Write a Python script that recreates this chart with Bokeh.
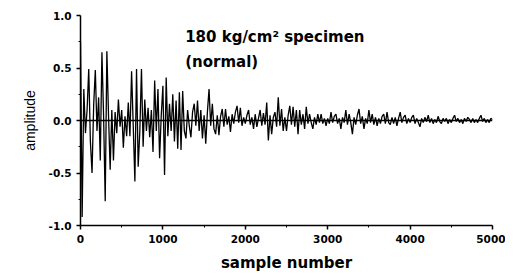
import numpy as np
from bokeh.plotting import figure
from bokeh.models import Span, Range1d, FixedTicker, PrintfTickFormatter
from bokeh.core.properties import value
from bokeh.embed import file_html
from bokeh.resources import INLINE

# ---- data ----
sample_step = 20
amplitude = [
    0.75, -0.92, 0.30, -0.12, 0.10, 0.49, -0.20, -0.50, 0.15, 0.48,
    -0.10, 0.22, -0.38, 0.65, 0.05, -0.77, 0.66, 0.05, -0.47, 0.10,
    -0.38, 0.08, -0.12, 0.20, -0.06, 0.10, -0.26, 0.04, -0.15, 0.17,
    -0.15, 0.47, -0.05, -0.58, 0.49, -0.44, -0.10, 0.49, -0.25, 0.20,
    -0.10, 0.12, -0.16, 0.10, -0.30, 0.38, -0.10, 0.30, -0.36, 0.05,
    0.33, -0.52, 0.41, -0.15, 0.16, -0.10, 0.25, -0.20, 0.19, -0.27,
    0.27, -0.28, 0.28, -0.10, -0.17, 0.10, -0.05, -0.16, 0.08, 0.16,
    -0.05, 0.19, -0.10, 0.10, -0.17, 0.05, -0.22, 0.08, 0.30, -0.05,
    0.16, -0.08, -0.13, 0.05, -0.14, 0.04, 0.11, -0.06, 0.11, -0.04,
    0.04, -0.11, 0.06, -0.03, 0.08, 0.14, -0.02, 0.12, -0.05, 0.03,
    -0.03, 0.05, 0.10, -0.04, 0.03, -0.08, 0.06, -0.06, 0.02, 0.10,
    -0.05, 0.07, -0.04, 0.17, -0.19, 0.05, -0.13, 0.03, 0.08, -0.06,
    0.22, -0.05, 0.11, -0.10, 0.03, -0.10, 0.05, 0.14, -0.04, 0.13,
    -0.06, 0.10, -0.13, 0.10, -0.04, 0.06, -0.08, 0.13, -0.03, 0.06,
    -0.02, -0.08, 0.03, -0.04, 0.06, -0.02, 0.06, -0.03, 0.02, -0.05,
    0.02, -0.03, 0.08, -0.02, 0.04, 0.06, -0.03, 0.02, -0.08, 0.03,
    -0.02, 0.10, -0.04, 0.06, -0.02, -0.13, 0.03, -0.04, 0.05, 0.11,
    -0.03, 0.04, -0.08, 0.02, -0.03, 0.10, -0.02, 0.06, -0.04, 0.03,
    -0.05, 0.02, -0.03, 0.04, 0.06, -0.03, 0.08, -0.02, -0.04, 0.03,
    -0.03, 0.03, -0.05, 0.02, 0.08, -0.02, 0.03, 0.05, -0.03, 0.02,
    -0.02, 0.03, 0.05, -0.03, 0.02, -0.02, -0.06, 0.02, -0.02, 0.03,
    -0.01, 0.05, -0.02, 0.02, -0.03, 0.01, -0.02, 0.04, -0.01, -0.03,
    0.02, -0.01, 0.02, -0.03, 0.01, -0.02, 0.02, 0.05, -0.01, 0.02,
    -0.02, 0.01, -0.03, 0.02, -0.01, 0.03, 0.01, -0.02, 0.02, -0.02,
    0.01, -0.02, 0.02, 0.05, -0.01, 0.02, -0.02, 0.01, -0.02, 0.02,
    0.01,
]
sample = np.arange(len(amplitude)) * sample_step

x_ticks = [0, 1000, 2000, 3000, 4000, 5000]
x_minor = [500, 1500, 2500, 3500, 4500]
y_ticks = [-1.0, -0.5, 0.0, 0.5, 1.0]
y_minor = [-0.75, -0.25, 0.25, 0.75]

title_lines = ["180 kg/cm\u00b2 specimen", "(normal)"]
title_x = [1270, 1270]
title_y = [0.80, 0.56]

# ---- figure ----
p = figure(width=505, height=274, output_backend="svg", toolbar_location=None,
           x_range=Range1d(0, 5000), y_range=Range1d(-1.0, 1.0),
           min_border_left=80, min_border_right=13, min_border_top=15,
           min_border_bottom=47)
p.outline_line_color = None
p.grid.visible = False
p.background_fill_color = "white"
p.border_fill_color = "white"

p.add_layout(Span(location=0, dimension="width", line_color="black", line_width=1.4))
p.line(sample, amplitude, line_color="black", line_width=1.3)

p.text(x=title_x, y=title_y, text=title_lines, text_font=value("DejaVu Sans"),
       text_font_style="bold", text_font_size="15px", text_baseline="middle",
       text_color="black")

p.xaxis.ticker = FixedTicker(ticks=x_ticks, minor_ticks=x_minor)
p.yaxis.ticker = FixedTicker(ticks=y_ticks, minor_ticks=y_minor)
p.yaxis.formatter = PrintfTickFormatter(format="%.1f")

for ax in (p.xaxis[0], p.yaxis[0]):
    ax.axis_line_color = "black"
    ax.axis_line_width = 1.5
    ax.major_tick_line_color = "black"
    ax.major_tick_line_width = 1.5
    ax.major_tick_out = 4
    ax.major_tick_in = 0
    ax.minor_tick_line_color = "black"
    ax.minor_tick_out = 2
    ax.minor_tick_in = 0
    ax.major_label_text_font = "DejaVu Sans"
    ax.major_label_text_font_style = "bold"
    ax.major_label_text_font_size = "10.5px"
    ax.major_label_text_color = "black"

p.xaxis.axis_label = "sample number"
p.xaxis.axis_label_text_font = "DejaVu Sans"
p.xaxis.axis_label_text_font_style = "bold"
p.xaxis.axis_label_text_font_size = "15px"
p.xaxis.axis_label_text_color = "black"
p.xaxis.major_label_standoff = 5
p.xaxis.axis_label_standoff = 8

p.yaxis.axis_label = "amplitude"
p.yaxis.axis_label_text_font = "Liberation Sans"
p.yaxis.axis_label_text_font_style = "normal"
p.yaxis.axis_label_text_font_size = "14px"
p.yaxis.axis_label_text_color = "black"
p.yaxis.major_label_standoff = 5
p.yaxis.axis_label_standoff = 8

open("out.html", "w").write(file_html(p, INLINE))
